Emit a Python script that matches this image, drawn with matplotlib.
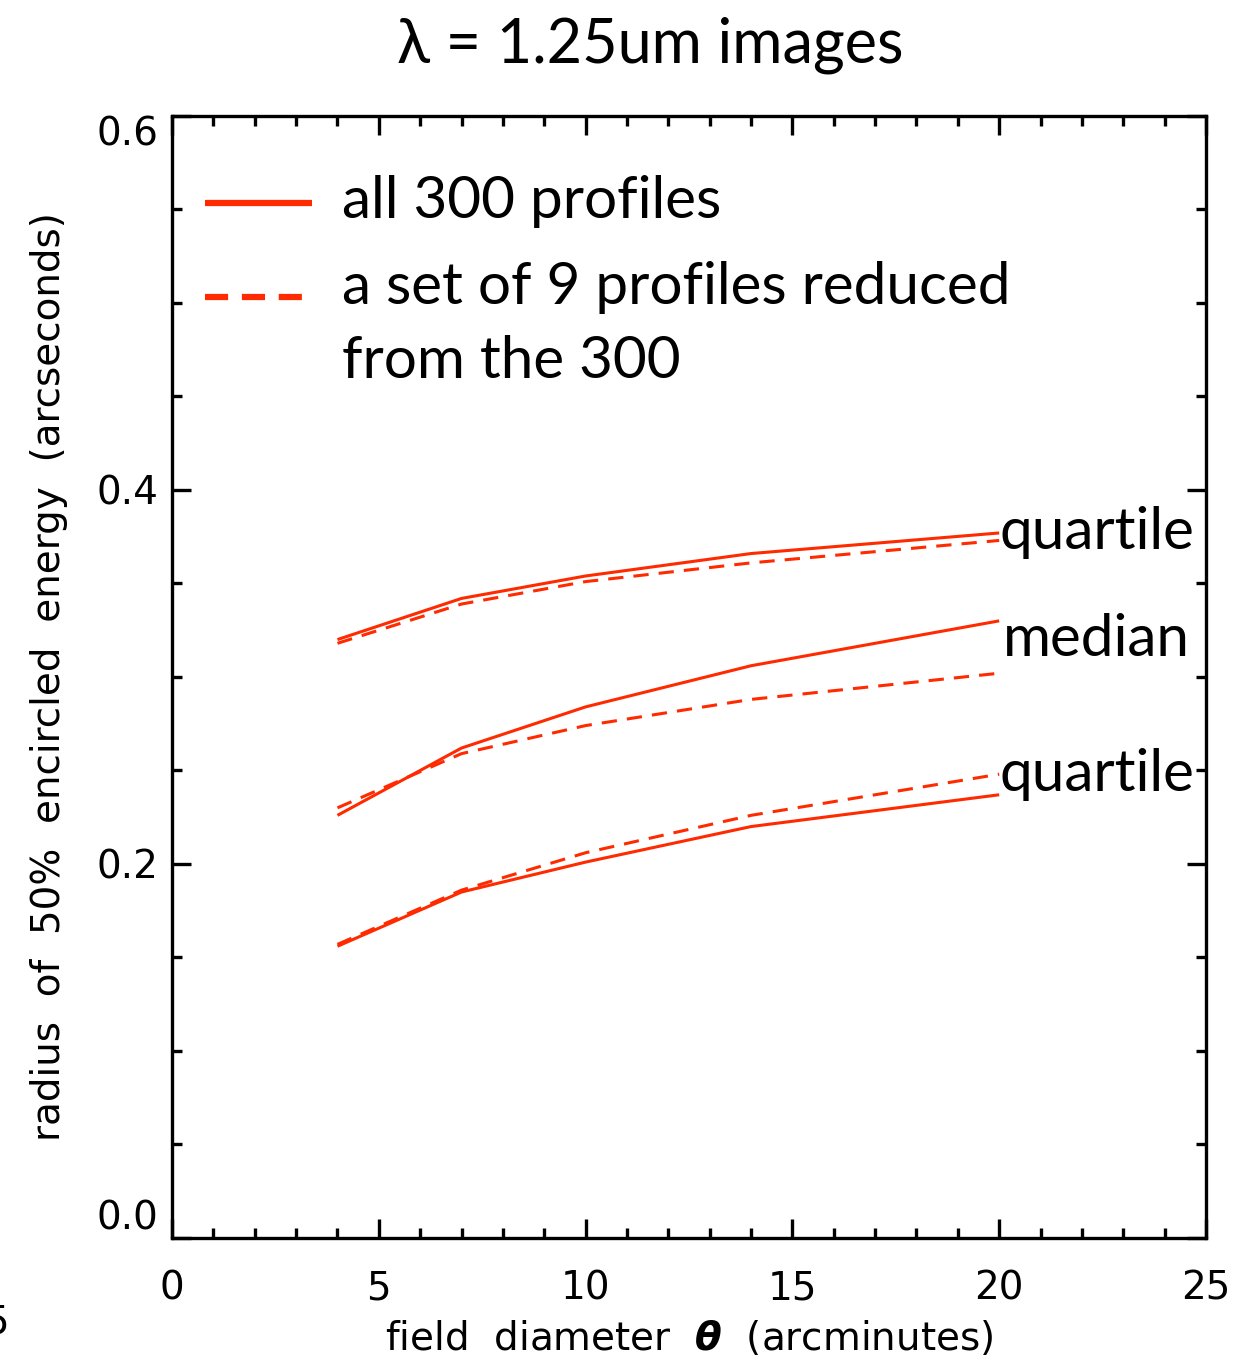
import matplotlib
matplotlib.use('Agg')
import matplotlib.pyplot as plt
from matplotlib.ticker import MultipleLocator

# field diameter (arcminutes)
theta = [4, 7, 10, 14, 20]

# radius of 50% encircled energy, all 300 profiles (solid)
upper_all = [0.320, 0.342, 0.354, 0.366, 0.377]
median_all = [0.226, 0.262, 0.284, 0.306, 0.330]
lower_all = [0.156, 0.185, 0.201, 0.220, 0.237]

# set of 9 profiles reduced from the 300 (dashed)
upper_9 = [0.318, 0.339, 0.351, 0.361, 0.373]
median_9 = [0.230, 0.259, 0.274, 0.288, 0.302]
lower_9 = [0.157, 0.186, 0.206, 0.226, 0.248]

curve_names = ['quartile', 'median', 'quartile']
xticks = [0, 5, 10, 15, 20, 25]
yticks = [0.0, 0.2, 0.4, 0.6]

red = '#ff2a00'
gill = ['Lato', 'DejaVu Sans']
axfont = ['DejaVu Sans']

fig = plt.figure(figsize=(12.36, 13.61), dpi=100)
ax = fig.add_axes([0.1392, 0.0904, 0.8365, 0.8244])

for ys in (upper_all, median_all, lower_all):
    ax.plot(theta, ys, color=red, lw=2.2, solid_capstyle='butt')
for ys in (upper_9, median_9, lower_9):
    ax.plot(theta, ys, color=red, lw=2.2, linestyle=(0, (5, 3.3)))

ax.set_xlim(0, 25)
ax.set_ylim(0, 0.6)
ax.set_xticks(xticks)
ax.set_yticks(yticks)
ax.set_xticklabels([str(v) for v in xticks], fontfamily=axfont, fontsize=28)
ylabs = ax.set_yticklabels(['%.1f' % v for v in yticks], fontfamily=axfont, fontsize=28)
# IDL style: end labels sit inside the axis range
ylabs[0].set_va('bottom')
ylabs[-1].set_va('top')
ax.xaxis.set_minor_locator(MultipleLocator(1))
ax.yaxis.set_minor_locator(MultipleLocator(0.05))
ax.tick_params(which='both', direction='in', top=True, right=True, width=2.4)
ax.tick_params(which='major', length=14)
ax.tick_params(which='minor', length=7)
ax.tick_params(axis='x', which='major', pad=23)
ax.tick_params(axis='y', which='major', pad=10)
for s in ax.spines.values():
    s.set_linewidth(2.4)

# curve labels at the right end
ax.text(theta[-1], upper_all[-1], curve_names[0], fontsize=42, family=gill,
        ha='left', va='center')
ax.text(theta[-1] + 0.1, (median_all[-1] + median_9[-1]) / 2 + 0.004, curve_names[1],
        fontsize=42, family=gill, ha='left', va='center')
ax.text(theta[-1], lower_9[-1], curve_names[2], fontsize=42, family=gill,
        ha='left', va='center')

# legend drawn by hand
ax.plot([0.032, 0.135], [0.922, 0.922], transform=ax.transAxes, color=red, lw=4.5,
        solid_capstyle='butt')
ax.plot([0.032, 0.135], [0.839, 0.839], transform=ax.transAxes, color=red, lw=4.5,
        linestyle=(0, (3.7, 2.2)))
ax.text(0.164, 0.924, 'all 300 profiles', transform=ax.transAxes, fontsize=42,
        family=gill, va='center')
ax.text(0.164, 0.847, 'a set of 9 profiles reduced', transform=ax.transAxes,
        fontsize=42, family=gill, va='center')
ax.text(0.164, 0.781, 'from the 300', transform=ax.transAxes, fontsize=42,
        family=gill, va='center')

ax.set_xlabel(r'field  diameter  $\boldsymbol{\theta}$  (arcminutes)', fontsize=28,
              family=axfont, labelpad=8)
ax.set_ylabel('radius  of  50%  encircled  energy  (arcseconds)', fontsize=28,
              family=axfont, labelpad=20)

fig.text(0.526, 0.967, 'λ = 1.25um images', fontsize=44, family=gill,
         ha='center', va='center')
# cut-off label from a neighbouring panel
fig.text(0.007, 0.028, '5', fontsize=28, family=axfont, ha='right', va='center')

plt.savefig('out.png', dpi=100)
